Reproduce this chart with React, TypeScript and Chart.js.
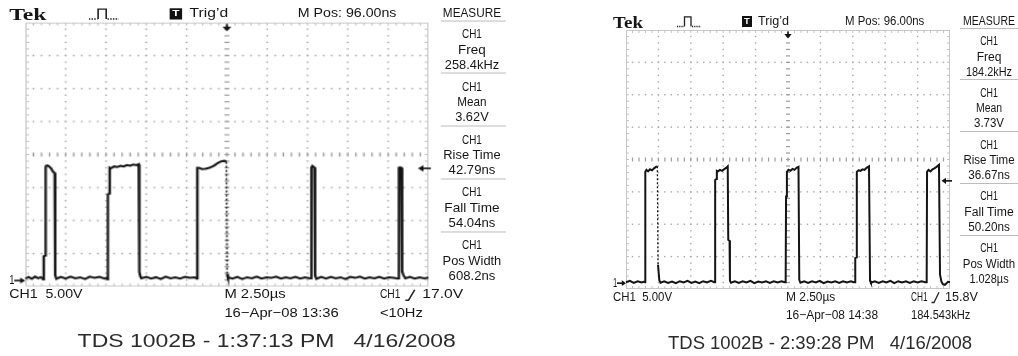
import React, { useEffect, useRef } from "react";
import { Chart, registerables } from "chart.js";
Chart.register(...registerables);

// ---------- axis / graticule definitions ----------
const timeTicks = [-12.5, -10, -7.5, -5, -2.5, 0, 2.5, 5, 7.5, 10, 12.5]; // µs, 2.50 µs/div
const voltTicks = [-0.9, 4.1, 9.1, 14.1, 19.1, 24.1, 29.1, 34.1, 39.1]; // V, 5.00 V/div
const triggerTime = 0;

// ---------- measurement panel ----------
const measureNames = ["Freq", "Mean", "Rise Time", "Fall Time", "Pos Width"];
const leftMeasureValues = ["258.4kHz", "3.62V", "42.79ns", "54.04ns", "608.2ns"];
const rightMeasureValues = ["184.2kHz", "3.73V", "36.67ns", "50.20ns", "1.028µs"];

// ---------- left capture (13:36) ----------
const leftTrigLevel = 17.0;
const leftDashedAt = [-0.03];
const leftTimes = [
  -12.5, -12.3, -12.1, -11.9, -11.7, -11.55, -11.42,
  -11.4, -11.36, -11.26, -11.24, -11.17, -11.07, -10.98, -10.89, -10.79, -10.68, -10.65, -10.58,
  -10.3, -10.0, -9.7, -9.4, -9.1, -8.8, -8.5, -8.2, -7.9, -7.6, -7.44,
  -7.39, -7.38, -7.29, -7.27, -7.2, -7.0, -6.8, -6.6, -6.4, -6.2, -6.0, -5.8, -5.6, -5.47, -5.43, -5.37, -5.3,
  -5.0, -4.7, -4.4, -4.1, -3.8, -3.5, -3.2, -2.9, -2.6, -2.3, -2.0, -1.86,
  -1.85, -1.83, -1.75, -1.55, -1.33, -1.1, -0.92, -0.75, -0.61, -0.45, -0.3, -0.15, -0.03, 0.01, 0.06,
  0.35, 0.65, 0.95, 1.25, 1.55, 1.85, 2.15, 2.45, 2.75, 3.05, 3.35, 3.65, 3.95, 4.25, 4.55, 4.85, 5.15,
  5.22, 5.24, 5.3, 5.43, 5.47, 5.55,
  5.85, 6.15, 6.45, 6.75, 7.05, 7.35, 7.65, 7.95, 8.25, 8.55, 8.85, 9.15, 9.45, 9.75, 10.05, 10.35, 10.6,
  10.66, 10.67, 10.73, 10.82, 10.87, 10.95, 11.07,
  11.35, 11.65, 11.95, 12.25, 12.5,
];
const leftVolts = [
  0.3, 0.55, 0.25, 0.6, 0.35, 0.5, 0.3,
  0.18, 3.67, 3.8, 17.3, 17.45, 17.37, 17.2, 16.97, 16.5, 16.3, 0.8, 0.26,
  0.55, 0.3, 0.6, 0.35, 0.5, 0.25, 0.6, 0.4, 0.55, 0.3, 0.45,
  0.18, 13.06, 13.2, 17.1, 17.0, 17.3, 17.2, 17.4, 17.3, 17.5, 17.4, 17.6, 17.5, 17.65, 1.26, 0.64, 0.33,
  0.55, 0.3, 0.5, 0.25, 0.6, 0.35, 0.5, 0.3, 0.55, 0.4, 0.5, 0.3,
  0.33, 17.1, 17.1, 16.9, 16.95, 17.1, 17.25, 17.5, 17.75, 17.95, 18.1, 18.15, 18.0, 0.94, 0.48,
  0.3, 0.55, 0.25, 0.5, 0.35, 0.6, 0.3, 0.5, 0.4, 0.6, 0.3, 0.5, 0.35, 0.55, 0.3, 0.5, 0.35,
  0.33, 17.15, 17.38, 17.15, 0.79, 0.26,
  0.55, 0.3, 0.55, 0.35, 0.5, 0.25, 0.55, 0.4, 0.6, 0.3, 0.5, 0.35, 0.55, 0.3, 0.5, 0.4, 0.3,
  0.33, 17.1, 17.15, 17.1, 1.4, 0.8, 0.33,
  0.55, 0.3, 0.5, 0.35, 0.45,
];

// ---------- right capture (14:38) ----------
const rightTrigLevel = 15.8;
const rightDashedAt = [-10.08];
const rightTimes = [
  -12.5, -12.2, -11.9, -11.6, -11.3, -11.08,
  -11.03, -11.01, -10.92, -10.8, -10.65, -10.49, -10.34, -10.19, -10.08, -10.03, -9.93, -9.84,
  -9.55, -9.25, -8.95, -8.65, -8.35, -8.05, -7.75, -7.45, -7.15, -6.85, -6.55, -6.25, -5.95, -5.68,
  -5.63, -5.62, -5.52, -5.49, -5.4, -5.25, -5.09, -4.94, -4.78, -4.65, -4.61, -4.51, -4.48, -4.4,
  -4.1, -3.8, -3.5, -3.2, -2.9, -2.6, -2.3, -2.0, -1.7, -1.4, -1.1, -0.8, -0.5, -0.25,
  -0.18, -0.15, -0.09, -0.08, 0.04, 0.19, 0.35, 0.5, 0.66, 0.81, 0.87, 0.96,
  1.25, 1.55, 1.85, 2.15, 2.45, 2.75, 3.05, 3.35, 3.65, 3.95, 4.25, 4.55, 4.85, 5.1,
  5.17, 5.19, 5.29, 5.31, 5.44, 5.59, 5.75, 5.9, 6.06, 6.25, 6.33, 6.4,
  6.7, 7.0, 7.3, 7.6, 7.9, 8.2, 8.5, 8.8, 9.1, 9.4, 9.7, 10.0, 10.3, 10.6,
  10.7, 10.73, 10.84, 11.0, 11.15, 11.3, 11.46, 11.65, 11.73, 11.84, 11.96, 12.11, 12.23, 12.34, 12.5,
];
const rightVolts = [
  0.15, 0.35, 0.05, 0.3, 0.1, 0.25,
  0.14, 17.2, 17.5, 17.27, 17.58, 17.42, 17.73, 17.96, 18.04, 2.84, 0.45, 0.06,
  0.3, 0.05, 0.25, 0.0, 0.3, 0.1, 0.35, 0.05, 0.25, 0.0, 0.3, 0.1, 0.35, 0.15,
  0.14, 15.95, 16.1, 17.35, 17.27, 17.5, 17.35, 17.58, 17.8, 18.04, 6.69, 6.54, 0.37, 0.06,
  0.3, 0.05, 0.3, 0.1, 0.35, 0.0, 0.25, 0.1, 0.3, 0.05, 0.3, 0.1, 0.3, 0.15,
  0.14, 13.38, 13.49, 17.19, 17.5, 17.35, 17.65, 17.5, 17.81, 17.96, 0.52, 0.06,
  0.3, 0.05, 0.3, 0.1, 0.35, 0.0, 0.25, 0.1, 0.3, 0.05, 0.3, 0.1, 0.3, 0.15,
  0.14, 3.87, 3.99, 17.19, 17.42, 17.35, 17.58, 17.5, 17.81, 18.04, 0.37, 0.06,
  0.3, 0.05, 0.3, 0.1, 0.35, 0.0, 0.3, 0.1, 0.3, 0.05, 0.3, 0.1, 0.3, 0.15,
  0.14, 17.19, 17.5, 17.27, 17.58, 17.73, 17.96, 18.27, 1.3, 0.22, -0.17, -0.25, -0.02, 0.22, 0.14,
];

// ---------- text helpers ----------
const SANS = '"Liberation Sans", Arial, sans-serif';
const SERIF = '"Liberation Serif", "Times New Roman", serif';
let mctx: CanvasRenderingContext2D | null = null;
function measure(text: string, font: string): number {
  if (!mctx) mctx = document.createElement("canvas").getContext("2d");
  if (!mctx) return 0;
  mctx.font = font;
  return mctx.measureText(text).width;
}
// width of the scope's narrow bitmap font
function bitmapWidth(s: string): number {
  let w = 0;
  for (const c of s) {
    if (". :'’".includes(c)) w += 3.3;
    else if ("1il".includes(c)) w += 4;
    else if ("MWmw".includes(c)) w += 8;
    else if (c >= "0" && c <= "9") w += 6.4;
    else if (c >= "A" && c <= "Z") w += 6.6;
    else w += 5.8;
  }
  return w * 1.03;
}

type TxtProps = {
  x: number; y: number; text: string; size?: number; w?: number; k?: number;
  align?: "left" | "center"; family?: string; weight?: number; color?: string;
};
function Txt({ x, y, text, size = 12.5, w, k = 1, align = "left", family = SANS, weight = 400, color = "#161616" }: TxtProps) {
  const target = (w ?? bitmapWidth(text)) * k;
  const nat = measure(text, `${weight} ${size}px ${family}`);
  const sx = nat > 0 ? target / nat : 1;
  const transform = align === "center" ? `translate(-50%,-50%) scaleX(${sx})` : `translateY(-50%) scaleX(${sx})`;
  return (
    <div
      style={{
        position: "absolute", left: x, top: y, fontFamily: family, fontSize: size, fontWeight: weight,
        lineHeight: `${size}px`, whiteSpace: "pre", color, transform,
        transformOrigin: align === "center" ? "50% 50%" : "0 50%",
      }}
    >
      {text}
    </div>
  );
}

// ---------- chart plugins ----------
const graticule = {
  id: "graticule",
  beforeDatasetsDraw(chart: any) {
    const { ctx, chartArea: a, scales } = chart;
    const xs = timeTicks.map((v) => scales.x.getPixelForValue(v));
    const ys = voltTicks.map((v) => scales.y.getPixelForValue(v));
    const dx = (xs[1] - xs[0]) / 5;
    const dy = Math.abs(ys[0] - ys[1]) / 5;
    const cx = scales.x.getPixelForValue(0);
    const cy = ys[4];
    ctx.save();
    ctx.fillStyle = "#a6a6a6";
    for (let i = 1; i < xs.length - 1; i++) {
      if (i === 5) continue;
      for (let k = 1; a.top + k * dy < a.bottom - 1; k++) ctx.fillRect(xs[i] - 0.7, a.top + k * dy - 0.7, 1.4, 1.4);
    }
    for (let j = 1; j < ys.length - 1; j++) {
      if (j === 4) continue;
      for (let k = 1; a.left + k * dx < a.right - 1; k++) ctx.fillRect(a.left + k * dx - 0.7, ys[j] - 0.7, 1.4, 1.4);
    }
    ctx.fillStyle = "#9c9c9c";
    for (let k = 1; a.top + k * dy < a.bottom - 1; k++) ctx.fillRect(cx - 2, a.top + k * dy - 0.6, 4, 1.2);
    for (let k = 1; a.left + k * dx < a.right - 1; k++) ctx.fillRect(a.left + k * dx - 0.6, cy - 2, 1.2, 4);
    ctx.strokeStyle = "#c8c8c8";
    ctx.lineWidth = 1;
    ctx.strokeRect(a.left + 0.5, a.top + 0.5, a.right - a.left - 1, a.bottom - a.top - 1);
    ctx.fillStyle = "#c2c2c2";
    for (let k = 1; a.left + k * dx < a.right - 1; k++) {
      ctx.fillRect(a.left + k * dx - 0.5, a.top, 1, 3);
      ctx.fillRect(a.left + k * dx - 0.5, a.bottom - 3, 1, 3);
    }
    for (let k = 1; a.top + k * dy < a.bottom - 1; k++) {
      ctx.fillRect(a.left, a.top + k * dy - 0.5, 3, 1);
      ctx.fillRect(a.right - 3, a.top + k * dy - 0.5, 3, 1);
    }
    ctx.restore();
  },
};

const markers = {
  id: "markers",
  afterDatasetsDraw(chart: any, _args: any, opts: any) {
    const { ctx, chartArea: a, scales } = chart;
    ctx.save();
    ctx.fillStyle = "#111";
    ctx.strokeStyle = "#111";
    ctx.lineWidth = 1.6;
    const tx = scales.x.getPixelForValue(opts.trigTime);
    ctx.beginPath(); ctx.moveTo(tx, a.top + 1.5); ctx.lineTo(tx, a.top + 5); ctx.stroke();
    ctx.beginPath(); ctx.moveTo(tx - 3.6, a.top + 4); ctx.lineTo(tx + 3.6, a.top + 4); ctx.lineTo(tx, a.top + 8.5); ctx.closePath(); ctx.fill();
    const ly = scales.y.getPixelForValue(opts.trigLevel);
    ctx.beginPath(); ctx.moveTo(a.right - 4, ly); ctx.lineTo(a.right + 2, ly); ctx.stroke();
    ctx.beginPath(); ctx.moveTo(a.right - 8.5, ly); ctx.lineTo(a.right - 4, ly - 3.2); ctx.lineTo(a.right - 4, ly + 3.2); ctx.closePath(); ctx.fill();
    const gy = scales.y.getPixelForValue(0);
    ctx.beginPath(); ctx.moveTo(a.left - 9, gy); ctx.lineTo(a.left - 3, gy); ctx.stroke();
    ctx.beginPath(); ctx.moveTo(a.left, gy); ctx.lineTo(a.left - 4.2, gy - 2.8); ctx.lineTo(a.left - 4.2, gy + 2.8); ctx.closePath(); ctx.fill();
    ctx.restore();
  },
};

// ---------- scope component ----------
type ScopeProps = {
  times: number[]; volts: number[]; dashedAt: number[]; trigLevel: number; values: string[];
  date: string; freqText: string; trigValue: string; caption: string;
  frame: { left: number; top: number; sx: number; sy: number }; clipW: number; panelCx: number; panelK: number;
};

function Scope(p: ScopeProps) {
  const ref = useRef<HTMLCanvasElement | null>(null);
  useEffect(() => {
    const canvas = ref.current;
    if (!canvas) return;
    const dashed = p.dashedAt;
    const chart = new Chart(canvas, {
      type: "line",
      data: {
        datasets: [
          {
            data: p.times.map((t, i) => ({ x: t, y: p.volts[i] })),
            borderColor: "#141414",
            borderWidth: 2,
            pointRadius: 0,
            pointHoverRadius: 0,
            tension: 0,
            fill: false,
            clip: 10,
            segment: {
              borderDash: (c: any) => (dashed.includes(c.p0.parsed.x) ? [2, 2] : undefined),
              borderWidth: (c: any) => (dashed.includes(c.p0.parsed.x) ? 1.3 : undefined),
            },
          } as any,
        ],
      },
      options: {
        animation: false,
        responsive: false,
        maintainAspectRatio: false,
        events: [],
        layout: { padding: { left: 26, top: 30, right: 68, bottom: 67 } },
        scales: {
          x: { type: "linear", min: timeTicks[0], max: timeTicks[timeTicks.length - 1], display: false },
          y: { type: "linear", min: voltTicks[0], max: voltTicks[voltTicks.length - 1], display: false },
        },
        plugins: {
          legend: { display: false },
          tooltip: { enabled: false },
          markers: { trigTime: triggerTime, trigLevel: p.trigLevel },
        } as any,
      },
      plugins: [graticule, markers],
    });
    return () => chart.destroy();
  }, []);

  const seps = [0, 1, 2, 3, 4].map((k) => 27.5 + 51.8 * k);
  const f = p.frame;
  const pk = p.panelK;
  return (
    <div
      style={{
        position: "absolute", left: f.left, top: f.top, width: p.clipW, height: 356, overflow: "hidden",
        transform: `scale(${f.sx},${f.sy})`, transformOrigin: "0 0",
      }}
    >
      <canvas ref={ref} width={418} height={356} style={{ position: "absolute", left: 0, top: 0, width: 418, height: 356 }} />
      {/* top status line */}
      <Txt x={13} y={21.5} text="Tek" size={17} weight={700} family={SERIF} w={30} />
      <svg style={{ position: "absolute", left: 76.5, top: 15, width: 25, height: 13 }} viewBox="0 0 25 13">
        <polyline points="0,11.5 7,11.5" fill="none" stroke="#222" strokeWidth="1.3" strokeDasharray="1.2 1" />
        <polyline points="7.5,11.5 7.5,1.8 14,1.8 14,11.5" fill="none" stroke="#222" strokeWidth="1.3" />
        <polyline points="15,11.5 24,11.5" fill="none" stroke="#222" strokeWidth="1.3" strokeDasharray="1.2 1" />
      </svg>
      <div
        style={{
          position: "absolute", left: 141.7, top: 16.3, width: 10.6, height: 10.6, background: "#111",
          color: "#fff", fontFamily: SANS, fontWeight: 700, fontSize: 9.5, lineHeight: "10.6px", textAlign: "center",
        }}
      >
        T
      </div>
      <Txt x={158.3} y={21} text="Trig’d" w={31} />
      <Txt x={245} y={21} text="M Pos: 96.00ns" w={79.3} />
      <Txt x={p.panelCx} y={20.5} align="center" text="MEASURE" w={52} k={pk} />
      {/* measurement panel */}
      {seps.map((s, k) => (
        <React.Fragment key={k}>
          <div style={{ position: "absolute", left: 359.5, top: s, width: 59, height: 1, background: "#bdbdbd" }} />
          <Txt x={p.panelCx} y={s + 13.5} align="center" text="CH1" k={pk} />
          <Txt x={p.panelCx} y={s + 29} align="center" text={measureNames[k]} k={pk} />
          <Txt x={p.panelCx} y={s + 44} align="center" text={p.values[k]} k={pk} />
        </React.Fragment>
      ))}
      {/* ground label */}
      <Txt x={13} y={283.4} text="1" w={4.2} />
      {/* bottom status */}
      <Txt x={12.7} y={297.3} text="CH1  5.00V" w={59} />
      <Txt x={185.7} y={297.3} text="M 2.50µs" w={49.3} />
      <Txt x={185.7} y={315.3} text={p.date} w={92} />
      <Txt x={310.7} y={297.3} text="CH1" w={16.5} />
      <svg style={{ position: "absolute", left: 331, top: 290.5, width: 9, height: 13 }} viewBox="0 0 9 13">
        <polyline points="0.5,11.5 3,11.5 8,1.2" fill="none" stroke="#222" strokeWidth="1.3" />
      </svg>
      <Txt x={345} y={297.3} text={p.trigValue} w={33} />
      <Txt x={310.7} y={315.3} text={p.freqText} w={p.freqText.length > 6 ? 59.3 : 34.5} />
      {/* caption */}
      <Txt x={68} y={342.5} text={p.caption} size={18.5} w={304} color="#2b2b2b" />
    </div>
  );
}

export default function App() {
  return (
    <div style={{ position: "absolute", left: 0, top: 0, width: 1018, height: 356, overflow: "hidden", background: "#fff" }}>
      <Scope
        times={leftTimes}
        volts={leftVolts}
        dashedAt={leftDashedAt}
        trigLevel={leftTrigLevel}
        values={leftMeasureValues}
        date="16−Apr−08 13:36"
        freqText="<10Hz"
        trigValue="17.0V"
        caption="TDS 1002B - 1:37:13 PM   4/16/2008"
        frame={{ left: -7.34, top: -7.57, sx: 1.244, sy: 1.019 }}
        clipW={412}
        panelCx={384.5}
        panelK={0.9}
      />
      <Scope
        times={rightTimes}
        volts={rightVolts}
        dashedAt={rightDashedAt}
        trigLevel={rightTrigLevel}
        values={rightMeasureValues}
        date="16−Apr−08 14:38"
        freqText="184.543kHz"
        trigValue="15.8V"
        caption="TDS 1002B - 2:39:28 PM   4/16/2008"
        frame={{ left: 600, top: 0, sx: 1, sy: 1 }}
        clipW={418}
        panelCx={388.5}
        panelK={1}
      />
    </div>
  );
}
